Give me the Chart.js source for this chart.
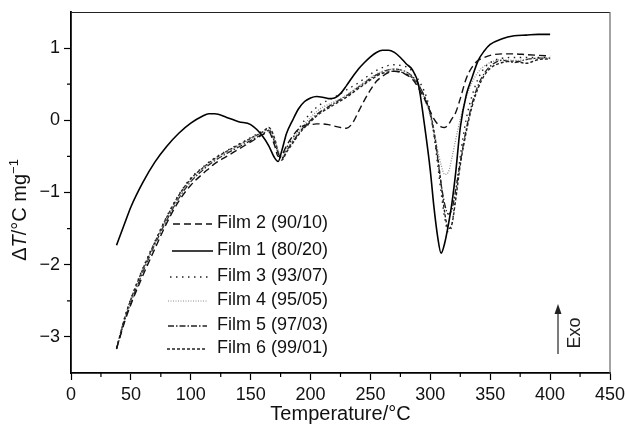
<!DOCTYPE html>
<html>
<head>
<meta charset="utf-8">
<script src="https://cdn.jsdelivr.net/npm/chart.js@4"></script>
<style>
  body { margin: 0; background: #fff; }
  canvas { display: block; }
</style>
</head>
<body>
<canvas id="dta" width="625" height="428"></canvas>
<script>
const temps = [38, 45, 50, 60, 70, 80, 90, 100, 110, 115,
  120, 130, 140, 150, 160, 165, 170, 173, 176, 180,
  185, 190, 195, 200, 205, 210, 215, 220, 225, 230,
  235, 240, 245, 250, 255, 260, 265, 270, 275, 280,
  285, 290, 295, 300, 303, 306, 309, 312, 315, 318,
  321, 325, 330, 335, 340, 345, 350, 360, 370, 380,
  390, 400];

const film1 = [-1.73, -1.42, -1.20, -0.86, -0.58, -0.36, -0.18, -0.04, 0.06, 0.09,
  0.09, 0.04, -0.02, -0.06, -0.22, -0.35, -0.52, -0.57, -0.42, -0.18,
  0.00, 0.16, 0.26, 0.31, 0.33, 0.32, 0.30, 0.31, 0.37, 0.48,
  0.60, 0.71, 0.80, 0.88, 0.94, 0.97, 0.97, 0.94, 0.87, 0.78,
  0.70, 0.50, -0.05, -0.70, -1.20, -1.60, -1.84, -1.70, -1.45, -1.15,
  -0.75, -0.10, 0.35, 0.60, 0.83, 0.96, 1.05, 1.13, 1.17, 1.18,
  1.19, 1.19];

const film2 = [-3.16, -2.78, -2.55, -2.15, -1.78, -1.42, -1.12, -0.90, -0.74, -0.67,
  -0.60, -0.50, -0.40, -0.30, -0.20, -0.16, -0.35, -0.50, -0.48, -0.35,
  -0.22, -0.12, -0.07, -0.06, -0.05, -0.05, -0.06, -0.08, -0.10, -0.11,
  -0.04, 0.12, 0.28, 0.42, 0.54, 0.61, 0.66, 0.68, 0.67, 0.63,
  0.57, 0.45, 0.30, 0.12, 0.02, -0.05, -0.09, -0.10, -0.06, 0.02,
  0.10, 0.30, 0.58, 0.74, 0.83, 0.87, 0.90, 0.92, 0.92, 0.91,
  0.90, 0.89];

const film3 = [-3.16, -2.72, -2.47, -2.05, -1.68, -1.33, -1.03, -0.80, -0.65, -0.58,
  -0.52, -0.42, -0.33, -0.24, -0.15, -0.12, -0.30, -0.45, -0.52, -0.38,
  -0.25, -0.12, 0.00, 0.10, 0.18, 0.24, 0.28, 0.32, 0.37, 0.42,
  0.47, 0.52, 0.58, 0.64, 0.69, 0.73, 0.76, 0.77, 0.76, 0.74,
  0.68, 0.56, 0.40, 0.12, -0.20, -0.60, -1.00, -1.35, -1.55, -1.45,
  -1.05, -0.50, 0.02, 0.35, 0.58, 0.72, 0.80, 0.86, 0.87, 0.87,
  0.87, 0.87];

const film4 = [-3.16, -2.74, -2.50, -2.08, -1.70, -1.36, -1.06, -0.83, -0.67, -0.60,
  -0.54, -0.44, -0.35, -0.26, -0.17, -0.13, -0.28, -0.42, -0.50, -0.40,
  -0.27, -0.15, -0.05, 0.04, 0.12, 0.18, 0.22, 0.26, 0.30, 0.35,
  0.41, 0.47, 0.53, 0.59, 0.64, 0.68, 0.70, 0.71, 0.70, 0.67,
  0.60, 0.48, 0.30, 0.06, -0.15, -0.40, -0.62, -0.75, -0.72, -0.52,
  -0.28, 0.02, 0.32, 0.53, 0.67, 0.75, 0.80, 0.84, 0.83, 0.84,
  0.86, 0.86];

const film5 = [-3.17, -2.76, -2.52, -2.10, -1.72, -1.38, -1.08, -0.85, -0.69, -0.62,
  -0.56, -0.46, -0.37, -0.28, -0.19, -0.14, -0.30, -0.46, -0.54, -0.42,
  -0.30, -0.18, -0.08, 0.00, 0.08, 0.14, 0.19, 0.24, 0.29, 0.34,
  0.40, 0.46, 0.52, 0.58, 0.63, 0.67, 0.70, 0.71, 0.70, 0.67,
  0.61, 0.50, 0.33, 0.08, -0.18, -0.52, -0.88, -1.16, -1.30, -1.24,
  -0.98, -0.58, -0.12, 0.24, 0.49, 0.65, 0.75, 0.83, 0.80, 0.84,
  0.86, 0.86];

const film6 = [-3.16, -2.73, -2.48, -2.06, -1.69, -1.34, -1.04, -0.81, -0.66, -0.59,
  -0.53, -0.43, -0.34, -0.25, -0.16, -0.10, -0.25, -0.44, -0.55, -0.44,
  -0.32, -0.20, -0.10, -0.02, 0.06, 0.12, 0.17, 0.22, 0.27, 0.32,
  0.38, 0.44, 0.50, 0.56, 0.61, 0.65, 0.67, 0.68, 0.67, 0.64,
  0.59, 0.49, 0.33, 0.10, -0.14, -0.48, -0.88, -1.28, -1.50, -1.44,
  -1.12, -0.62, -0.16, 0.20, 0.45, 0.62, 0.72, 0.80, 0.82, 0.79,
  0.84, 0.85];

const seriesLabels = ["Film 2 (90/10)", "Film 1 (80/20)", "Film 3 (93/07)", "Film 4 (95/05)", "Film 5 (97/03)", "Film 6 (99/01)"];
const seriesValues = [film2, film1, film3, film4, film5, film6];

const xTickLabels = [0, 50, 100, 150, 200, 250, 300, 350, 400, 450];
const yTickLabels = [1, 0, -1, -2, -3];

const lineStyles = [
  { color: "#111", width: 1.4, dash: [7, 4] },
  { color: "#000", width: 1.6, dash: [] },
  { color: "#222", width: 1.4, dash: [1.5, 4.5] },
  { color: "#8a8a8a", width: 1.2, dash: [1, 1.5] },
  { color: "#222", width: 1.3, dash: [6, 2, 1.5, 2] },
  { color: "#222", width: 1.4, dash: [3, 2] }
];

const FONT = "'Liberation Sans', Arial, sans-serif";

const datasets = seriesValues.map((vals, i) => ({
  label: seriesLabels[i],
  data: vals.map((v, j) => ({ x: temps[j], y: v })),
  borderColor: lineStyles[i].color,
  borderWidth: lineStyles[i].width,
  borderDash: lineStyles[i].dash,
  pointRadius: 0,
  fill: false,
  cubicInterpolationMode: "monotone"
}));

const fmt = v => (v < 0 ? "\u2212" + Math.abs(v) : String(v));

const decor = {
  id: "decor",
  afterDraw(chart) {
    const ctx = chart.ctx;
    const a = chart.chartArea;
    const xs = chart.scales.x, ys = chart.scales.y;
    ctx.save();

    // frame top + right
    ctx.strokeStyle = "#222";
    ctx.lineWidth = 1.2;
    ctx.beginPath();
    ctx.moveTo(a.left, a.top + 0.5);
    ctx.lineTo(a.right, a.top + 0.5);
    ctx.stroke();
    ctx.strokeStyle = "#666";
    ctx.beginPath();
    ctx.moveTo(a.right, a.top);
    ctx.lineTo(a.right, a.bottom);
    ctx.stroke();

    // minor ticks
    ctx.strokeStyle = "#000";
    ctx.lineWidth = 1.2;
    ctx.beginPath();
    for (let t = 25; t < 450; t += 50) {
      const px = xs.getPixelForValue(t);
      ctx.moveTo(px, a.bottom);
      ctx.lineTo(px, a.bottom + 4);
    }
    for (let v = -2.5; v <= 0.5; v += 1) {
      const py = ys.getPixelForValue(v);
      ctx.moveTo(a.left, py);
      ctx.lineTo(a.left - 4, py);
    }
    ctx.stroke();

    // legend
    ctx.font = "18px " + FONT;
    ctx.textBaseline = "middle";
    ctx.fillStyle = "#111";
    const rowsY = [223, 250, 276, 300, 325, 348];
    const lineStart = [173, 172, 170, 168, 168, 167];
    const lineEnd = [212, 213, 212, 208, 207, 205];
    chart.data.datasets.forEach((ds, i) => {
      ctx.strokeStyle = ds.borderColor;
      ctx.lineWidth = ds.borderWidth;
      ctx.setLineDash(ds.borderDash);
      ctx.beginPath();
      ctx.moveTo(lineStart[i], rowsY[i] + 1);
      ctx.lineTo(lineEnd[i], rowsY[i] + 1);
      ctx.stroke();
      ctx.setLineDash([]);
      ctx.fillText(ds.label, 217, rowsY[i]);
    });

    // x title
    ctx.font = "20px " + FONT;
    ctx.textAlign = "center";
    ctx.fillStyle = "#111";
    ctx.fillText("Temperature/\u00b0C", (a.left + a.right) / 2, 414);

    // y title (rotated, mixed styles)
    const parts = [
      { t: "\u0394", f: "20px " + FONT, dy: 0 },
      { t: "T", f: "italic 20px " + FONT, dy: 0 },
      { t: "/\u00b0C mg", f: "20px " + FONT, dy: 0 },
      { t: "\u22121", f: "13px " + FONT, dy: -8 }
    ];
    let total = 0;
    parts.forEach(p => { ctx.font = p.f; p.w = ctx.measureText(p.t).width; total += p.w; });
    ctx.translate(26, 210);
    ctx.rotate(-Math.PI / 2);
    ctx.textAlign = "left";
    ctx.textBaseline = "alphabetic";
    let cx = -total / 2;
    parts.forEach(p => { ctx.font = p.f; ctx.fillText(p.t, cx, p.dy); cx += p.w; });
    ctx.setTransform(1, 0, 0, 1, 0, 0);

    // Exo arrow
    ctx.strokeStyle = "#444";
    ctx.fillStyle = "#222";
    ctx.lineWidth = 1.4;
    ctx.beginPath();
    ctx.moveTo(558, 354);
    ctx.lineTo(558, 312);
    ctx.stroke();
    ctx.beginPath();
    ctx.moveTo(558, 304);
    ctx.lineTo(554.5, 314);
    ctx.lineTo(561.5, 314);
    ctx.closePath();
    ctx.fill();
    ctx.translate(575, 333);
    ctx.rotate(-Math.PI / 2);
    ctx.font = "18px " + FONT;
    ctx.textAlign = "center";
    ctx.textBaseline = "middle";
    ctx.fillText("Exo", 0, 0);
    ctx.restore();
  }
};

new Chart(document.getElementById("dta"), {
  type: "line",
  data: { datasets },
  options: {
    responsive: false,
    animation: false,
    layout: { padding: { left: 0, right: 15, top: 12, bottom: 0 } },
    plugins: { legend: { display: false }, tooltip: { enabled: false } },
    scales: {
      x: {
        type: "linear",
        min: 0,
        max: 450,
        afterFit: s => { s.height = 55; s.paddingLeft = 0; s.paddingRight = 0; },
        afterBuildTicks: s => { s.ticks = xTickLabels.map(v => ({ value: v })); },
        border: { display: true, color: "#000", width: 1.8 },
        grid: { drawOnChartArea: false, drawTicks: true, tickLength: 7, tickColor: "#000", tickWidth: 1.2 },
        ticks: { color: "#111", font: { family: FONT, size: 18 }, padding: 4, maxRotation: 0, callback: v => fmt(v) }
      },
      y: {
        type: "linear",
        min: -3.5,
        max: 1.5,
        afterFit: s => { s.width = 71; s.paddingTop = 0; s.paddingBottom = 0; },
        afterBuildTicks: s => { s.ticks = yTickLabels.map(v => ({ value: v })); },
        border: { display: true, color: "#000", width: 1.8 },
        grid: { drawOnChartArea: false, drawTicks: true, tickLength: 7, tickColor: "#000", tickWidth: 1.2 },
        ticks: { color: "#111", font: { family: FONT, size: 18 }, padding: 4, callback: v => fmt(v) }
      }
    }
  },
  plugins: [decor]
});
</script>
</body>
</html>
